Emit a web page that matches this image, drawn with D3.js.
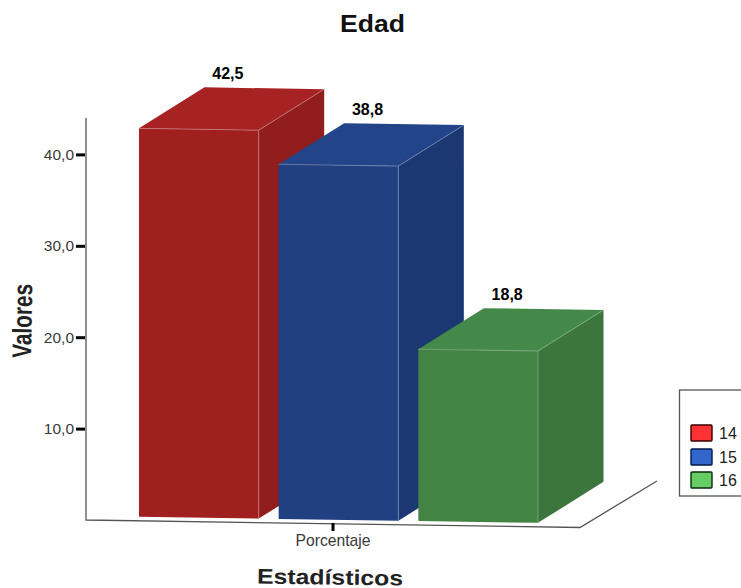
<!DOCTYPE html>
<html>
<head>
<meta charset="utf-8">
<script src="https://cdn.jsdelivr.net/npm/d3@7/dist/d3.min.js"></script>
<style>
html,body{margin:0;padding:0;background:#fff}
svg{display:block}
text{font-family:"Liberation Sans",Arial,sans-serif}
</style>
</head>
<body>
<svg id="chart" width="741" height="588"></svg>
<script>
const categories = ["14", "15", "16"];
const values = [42.5, 38.8, 18.8];
const yTicks = [10, 20, 30, 40];
const groupLabel = "Porcentaje";
const frontColors = ["#a02020", "#214082", "#438444"];
const topColors = ["#a62223", "#234489", "#45894a"];
const sideColors = ["#911d1d", "#1c3873", "#3c763c"];
const edgeColors = ["#c77a7a", "#6f86b5", "#7fae80"];
const legendColors = ["#ff3333", "#3366cc", "#66cc66"];
const legendBorders = ["#3a0000", "#001a4a", "#0a2a0a"];

const svg = d3.select("#chart");
const zeroY = 520, floorLeft = 86, floorRight = 580;
const floorSlope = 7.5 / (floorRight - floorLeft);
const depth = {dx: 65.5, dy: -41};
const baseLift = 4;

const y = d3.scaleLinear().domain([0, 44]).range([zeroY, zeroY - 44 * 9.14]);
const x = d3.scaleBand().domain(categories).range([139, 538]).paddingInner(0.143).paddingOuter(0);
const fmt = d3.formatLocale({decimal: ",", thousands: ".", grouping: [3], currency: ["", ""]}).format(".1f");
const floorY = px => zeroY + (px - floorLeft) * floorSlope;

// Axis walls and floor outline
svg.append("path")
  .attr("d", d3.line()([[floorLeft, 118], [floorLeft, zeroY], [floorRight, floorY(floorRight)], [657, 481]]))
  .attr("fill", "none").attr("stroke", "#555").attr("stroke-width", 1.3);

// Value axis
const yAxis = svg.append("g").attr("transform", `translate(${floorLeft - 1},0)`)
  .call(d3.axisLeft(y).tickValues(yTicks).tickFormat(fmt).tickSize(9).tickPadding(2));
yAxis.select(".domain").remove();
yAxis.selectAll(".tick line").attr("stroke", "#000").attr("stroke-width", 3);
yAxis.selectAll(".tick text").attr("font-size", 15.5).attr("fill", "#3a3a3a")
  .style("font-family", '"Liberation Sans",Arial,sans-serif');

// Category tick and label
svg.append("line").attr("x1", 333).attr("x2", 333).attr("y1", 523).attr("y2", 531)
  .attr("stroke", "#000").attr("stroke-width", 3);
svg.append("text").attr("x", 333).attr("y", 546).attr("text-anchor", "middle")
  .attr("font-size", 15.7).attr("fill", "#3a3a3a")
  .text(groupLabel);

// Bars as extruded boxes, drawn left to right so nearer faces overlap
const bars = svg.append("g").selectAll("g").data(values).join("g");
const corners = (v, i) => {
  const x0 = x(categories[i]), x1 = x0 + x.bandwidth();
  const b0 = floorY(x0) - baseLift, b1 = floorY(x1) - baseLift;
  const h = zeroY - y(v);
  return {x0, x1, b0, b1, t0: b0 - h, t1: b1 - h};
};
const poly = pts => d3.line()(pts) + "Z";
bars.append("path")
  .attr("d", (v, i) => { const c = corners(v, i); return poly([[c.x1, c.t1], [c.x1 + depth.dx, c.t1 + depth.dy], [c.x1 + depth.dx, c.b1 + depth.dy], [c.x1, c.b1]]); })
  .attr("fill", (v, i) => sideColors[i]);
bars.append("path")
  .attr("d", (v, i) => { const c = corners(v, i); return poly([[c.x0, c.t0], [c.x0 + depth.dx, c.t0 + depth.dy], [c.x1 + depth.dx, c.t1 + depth.dy], [c.x1, c.t1]]); })
  .attr("fill", (v, i) => topColors[i]);
bars.append("path")
  .attr("d", (v, i) => { const c = corners(v, i); return poly([[c.x0, c.t0], [c.x1, c.t1], [c.x1, c.b1], [c.x0, c.b0]]); })
  .attr("fill", (v, i) => frontColors[i]);
// Thin highlights along the shared box edges
bars.append("path")
  .attr("d", (v, i) => { const c = corners(v, i); return d3.line()([[c.x0, c.t0], [c.x1, c.t1], [c.x1, c.b1]]) + "M" + c.x1 + "," + c.t1 + "L" + (c.x1 + depth.dx) + "," + (c.t1 + depth.dy); })
  .attr("fill", "none").attr("stroke", (v, i) => edgeColors[i]).attr("stroke-width", 0.8);

// Value labels above each box
bars.append("text")
  .attr("x", (v, i) => corners(v, i).x0 + x.bandwidth() / 2 + 29)
  .attr("y", (v, i) => corners(v, i).t0 - 49.5)
  .attr("text-anchor", "middle").attr("font-size", 16).attr("font-weight", "bold").attr("fill", "#000")
  .text(v => fmt(v));

// Titles
svg.append("text").attr("x", 340).attr("y", 32)
  .attr("textLength", 65).attr("lengthAdjust", "spacingAndGlyphs")
  .attr("font-size", 24).attr("font-weight", "bold").attr("fill", "#111").text("Edad");
svg.append("text").attr("transform", "translate(257,583.5) rotate(0.8)")
  .attr("textLength", 146).attr("lengthAdjust", "spacingAndGlyphs")
  .attr("font-size", 21).attr("font-weight", "bold").attr("fill", "#222").text("Estadísticos");
svg.append("text").attr("transform", "translate(31,358) rotate(-89)")
  .attr("textLength", 74).attr("lengthAdjust", "spacingAndGlyphs")
  .attr("font-size", 27).attr("font-weight", "bold").attr("fill", "#222").text("Valores");

// Legend
svg.append("rect").attr("x", 679.5).attr("y", 390).attr("width", 80).attr("height", 106)
  .attr("fill", "#fff").attr("stroke", "#555").attr("stroke-width", 1.3);
const legend = svg.append("g").selectAll("g").data(categories).join("g")
  .attr("transform", (d, i) => `translate(691,${[425, 449, 472][i]})`);
legend.append("rect").attr("width", 21).attr("height", 16).attr("rx", 1)
  .attr("fill", (d, i) => legendColors[i]).attr("stroke", (d, i) => legendBorders[i]).attr("stroke-width", 1.4);
legend.append("text").attr("x", 28).attr("y", 13.5).attr("font-size", 16).attr("fill", "#222").text(d => d);
</script>
</body>
</html>
